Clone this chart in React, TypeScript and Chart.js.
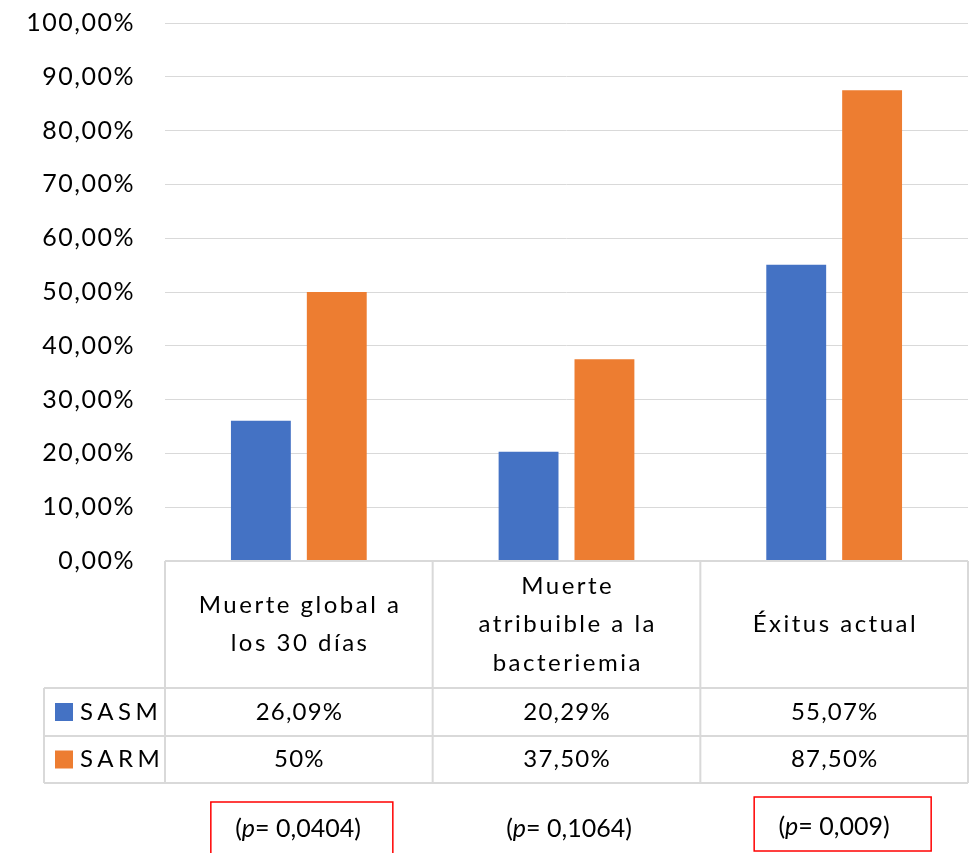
import React, { useEffect, useRef } from "react";
import { Chart, registerables } from "chart.js";

Chart.register(...registerables);

const categories: string[][] = [
  ["Muerte global a", "los 30 días"],
  ["Muerte", "atribuible a la", "bacteriemia"],
  ["Éxitus actual"],
];
const seriesNames = ["SASM", "SARM"];
const sasmValues = [26.09, 20.29, 55.07];
const sarmValues = [50, 37.5, 87.5];
const sasmLabels = ["26,09%", "20,29%", "55,07%"];
const sarmLabels = ["50%", "37,50%", "87,50%"];
const pValues = ["0,0404", "0,1064", "0,009"];
const pHighlighted = [true, false, true];
const colors = ["#4472C4", "#ED7D31"];

const FONT = "Lato";

function drawSpaced(ctx: any, text: string, x: number, y: number, spacing: number, align: "left" | "center") {
  ctx.letterSpacing = spacing + "px";
  const w = ctx.measureText(text).width - spacing;
  const sx = align === "center" ? x - w / 2 : x;
  ctx.textAlign = "left";
  ctx.fillText(text, sx, y);
  ctx.letterSpacing = "0px";
}

const spacingPlugin = {
  id: "spacing",
  beforeDraw(chart: any) {
    chart.ctx.letterSpacing = "1.5px";
  },
};

const tablePlugin = {
  id: "dataTable",
  afterDraw(chart: any) {
    const ctx: any = chart.ctx;
    ctx.letterSpacing = "0px";
    const area = chart.chartArea;
    const x = chart.scales.x;
    const n = categories.length;
    const colW = (area.right - area.left) / n;
    const top = area.bottom;
    const headerBottom = top + 127;
    const row1Bottom = headerBottom + 48;
    const row2Bottom = row1Bottom + 47;
    const legendLeft = 44;

    ctx.save();
    ctx.strokeStyle = "#d9d9d9";
    ctx.lineWidth = 2;
    ctx.beginPath();
    ctx.moveTo(area.left, top);
    ctx.lineTo(area.right, top);
    for (let i = 0; i <= n; i++) {
      const xx = area.left + i * colW;
      ctx.moveTo(xx, top);
      ctx.lineTo(xx, row2Bottom);
    }
    [headerBottom, row1Bottom, row2Bottom].forEach((yy) => {
      ctx.moveTo(legendLeft, yy);
      ctx.lineTo(area.right, yy);
    });
    ctx.moveTo(legendLeft, headerBottom);
    ctx.lineTo(legendLeft, row2Bottom);
    ctx.stroke();

    ctx.fillStyle = "#000";
    ctx.textBaseline = "middle";
    ctx.font = `24px ${FONT}`;
    const lh = 38.5;
    categories.forEach((lines, i) => {
      const cx = x.getPixelForValue(i);
      const midY = (top + headerBottom) / 2;
      const start = midY - ((lines.length - 1) * lh) / 2;
      lines.forEach((l, j) => drawSpaced(ctx, l, cx, start + j * lh, 2.5, "center"));
    });

    const rows = [
      { y: (headerBottom + row1Bottom) / 2, labels: sasmLabels },
      { y: (row1Bottom + row2Bottom) / 2, labels: sarmLabels },
    ];
    rows.forEach((r, ri) => {
      r.labels.forEach((t, i) => {
        drawSpaced(ctx, t, x.getPixelForValue(i), r.y, 1.2, "center");
      });
      ctx.fillStyle = colors[ri];
      ctx.fillRect(55, r.y - 9, 18, 18);
      ctx.fillStyle = "#000";
      drawSpaced(ctx, seriesNames[ri], 80, r.y, 4.5, "left");
    });

    // p-values
    const pYs = [829, 829, 827];
    const nf = `25px ${FONT}`;
    const itf = `italic 25px ${FONT}`;
    const centers = [298, 569, 834].map((c, i) => c - x.getPixelForValue(i));
    ctx.textAlign = "left";
    pValues.forEach((pv, i) => {
      const cx = x.getPixelForValue(i) + centers[i];
      const a = "(";
      const b = "p";
      const c = `= ${pv})`;
      ctx.font = nf;
      const wa = ctx.measureText(a).width;
      const wc = ctx.measureText(c).width;
      ctx.font = itf;
      const wb = ctx.measureText(b).width;
      const total = wa + wb + wc;
      const yy = pYs[i];
      let sx = cx - total / 2;
      ctx.font = nf;
      ctx.fillText(a, sx, yy);
      sx += wa;
      ctx.font = itf;
      ctx.fillText(b, sx, yy);
      sx += wb;
      ctx.font = nf;
      ctx.fillText(c, sx, yy);
      if (pHighlighted[i]) {
        ctx.strokeStyle = "#FF0000";
        ctx.lineWidth = 1.5;
        const colC = x.getPixelForValue(i);
        if (i === 0) {
          ctx.strokeRect(colC - 88, 802, 182, 70);
        } else {
          ctx.strokeRect(colC - 80, 797, 177, 54);
        }
      }
    });
    ctx.restore();
  },
};

export default function App() {
  const ref = useRef<HTMLCanvasElement>(null);
  useEffect(() => {
    if (!ref.current) return;
    const chart = new Chart(ref.current, {
      type: "bar",
      data: {
        labels: categories.map((c) => c.join(" ")),
        datasets: [
          {
            label: seriesNames[0],
            data: sasmValues,
            backgroundColor: colors[0],
            categoryPercentage: 0.567,
            barPercentage: 0.789,
          },
          {
            label: seriesNames[1],
            data: sarmValues,
            backgroundColor: colors[1],
            categoryPercentage: 0.567,
            barPercentage: 0.789,
          },
        ],
      },
      options: {
        animation: false,
        responsive: false,
        layout: { padding: { top: 23, bottom: 292, right: 4, left: 0 } },
        plugins: { legend: { display: false }, title: { display: false }, tooltip: { enabled: false } },
        scales: {
          x: { display: false },
          y: {
            min: 0,
            max: 100,
            ticks: {
              stepSize: 10,
              padding: 30,
              color: "#000",
              font: { family: FONT, size: 25 },
              callback: (v: any) => Number(v).toFixed(2).replace(".", ",") + "%",
            },
            grid: { color: "#d9d9d9", lineWidth: 1, drawTicks: false },
            border: { display: false },
            afterFit: (s: any) => {
              s.width = 165;
              s.paddingTop = 0;
              s.paddingBottom = 0;
            },
          },
        },
      },
      plugins: [spacingPlugin, tablePlugin],
    });
    return () => chart.destroy();
  }, []);
  return (
    <div style={{ position: "absolute", left: 0, top: 0, width: 972, height: 853, background: "#fff" }}>
      <canvas ref={ref} width={972} height={853} style={{ display: "block" }} />
    </div>
  );
}
